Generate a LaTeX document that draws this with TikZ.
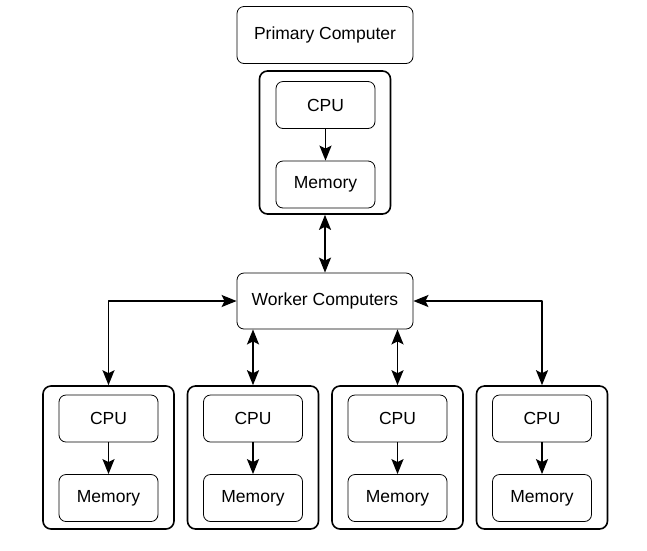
\documentclass[tikz,border=0pt]{standalone}
\usepackage{fontspec}
\setmainfont{Liberation Sans}
\usetikzlibrary{arrows.meta}
\begin{document}
\begin{tikzpicture}[x=1pt, y=-1pt, >={Stealth[length=15pt,width=12pt,inset=3pt]}, line join=round,
	every node/.style={font=\fontsize{17.5}{21}\selectfont},
	box/.style={draw, line width=0.8pt, rounded corners=7pt, inner sep=0pt},
	unit/.style={draw, line width=1.6pt, rounded corners=8pt, minimum width=131pt, minimum height=143pt, inner sep=0pt},
	part/.style={box, minimum width=99pt, minimum height=47pt},
	link/.style={line width=1.8pt}]
	
	\useasboundingbox (0,0) rectangle (647,550);
	
	\node[box, minimum width=176pt, minimum height=57pt] (primary) at (325,35) {Primary Computer};
	\node[unit] (top) at (325,142.5) {};
	\node[part] (topcpu) at (325.5,105) {CPU};
	\node[part] (topmem) at (325.5,184.5) {Memory};
	\draw[link, ->] (topcpu) -- (topmem);
	
	\node[box, minimum width=176pt, minimum height=56pt] (worker) at (325,301) {Worker Computers};
	\draw[link, <->] (top) -- (worker);
	
	\foreach \i/\x in {1/108.5, 2/253, 3/397.5, 4/542} {
		\node[unit] (u\i) at (\x,457.5) {};
		\node[part] (cpu\i) at (\x,418.5) {CPU};
		\node[part] (mem\i) at (\x,498) {Memory};
		\draw[link, ->] (cpu\i) -- (mem\i);
	}
	
	\draw[link, <->] (worker.west) -| (u1.north);
	\draw[link, <->] (worker.east) -| (u4.north);
	\draw[link, <->] (worker.south -| u2.north) -- (u2.north);
	\draw[link, <->] (worker.south -| u3.north) -- (u3.north);
	
\end{tikzpicture}
\end{document}
